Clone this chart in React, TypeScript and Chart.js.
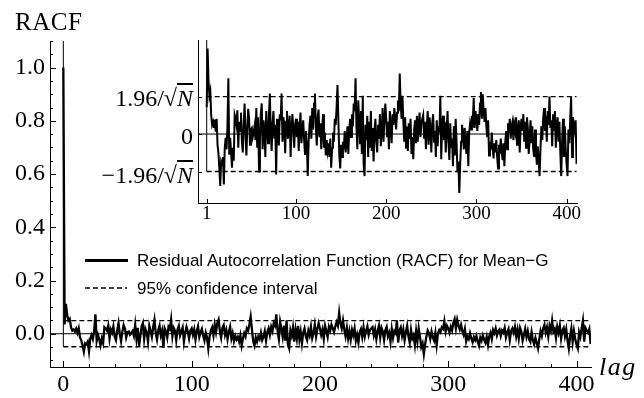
import React, { useEffect, useRef } from 'react';
import { Chart, registerables } from 'chart.js';

Chart.register(...registerables);

// Confidence bound 1.96/sqrt(N)
const CI = 0.049;

// Residual autocorrelation, lag 0 .. 411
const racf: number[] = [
  1.0,
  0.035, 0.112, 0.070, 0.050, 0.056, 0.024, 0.012, 0.016, 0.008, 0.019,
  0.003, 0.020, -0.014, -0.025, -0.045, -0.068, -0.036, -0.040, -0.030, -0.066,
  -0.018, -0.005, -0.020, 0.010, 0.073, -0.027, -0.005, -0.022, -0.044, -0.018,
  -0.035, 0.025, 0.020, 0.012, 0.031, -0.018, 0.016, 0.004, 0.028, -0.010,
  -0.024, 0.012, 0.040, 0.000, -0.028, 0.008, 0.033, 0.020, -0.014, 0.006,
  0.008, -0.004, 0.002, 0.010, -0.008, 0.034, -0.018, 0.022, -0.049, -0.010,
  0.026, 0.040, -0.020, 0.018, 0.004, -0.030, 0.030, 0.010, -0.012, 0.025,
  0.053, 0.002, -0.022, 0.014, 0.030, -0.006, 0.012, -0.053, 0.020, 0.008,
  -0.015, 0.026, 0.018, 0.053, -0.010, 0.022, 0.012, -0.025, 0.016, 0.030,
  -0.006, 0.010, 0.024, -0.030, 0.004, 0.026, 0.008, -0.018, 0.012, 0.020,
  -0.004, 0.016, -0.022, 0.010, 0.028, -0.012, 0.006, 0.018, -0.008, -0.026,
  0.004, -0.014, -0.055, -0.010, 0.012, 0.024, -0.006, 0.034, 0.006, 0.040,
  0.053, 0.010, -0.015, 0.022, 0.032, -0.004, 0.014, -0.020, 0.008, 0.026,
  -0.018, 0.002, -0.028, -0.008, -0.022, -0.012, -0.030, -0.006, -0.044, -0.018,
  0.002, -0.010, 0.020, 0.012, 0.035, 0.064, 0.016, -0.028, -0.045, -0.014,
  -0.030, -0.010, -0.020, 0.004, -0.024, -0.012, 0.010, -0.026, 0.006, 0.020,
  -0.004, 0.026, 0.010, 0.040, 0.030, 0.073, 0.010, -0.020, 0.044, 0.018,
  -0.012, 0.030, -0.026, 0.050, -0.040, -0.055, 0.012, -0.008, 0.024, -0.030,
  0.016, -0.018, 0.030, -0.022, 0.008, -0.036, 0.004, 0.020, -0.010, -0.024,
  0.012, -0.006, 0.026, -0.016, 0.002, 0.034, -0.010, 0.018, 0.040, 0.020,
  -0.004, 0.016, -0.020, 0.030, 0.010, -0.012, 0.026, 0.012, 0.034, 0.020,
  0.006, 0.028, 0.044, 0.030, 0.079, 0.040, 0.020, 0.050, 0.016, -0.010,
  0.022, -0.018, 0.010, -0.022, 0.014, -0.006, 0.020, -0.026, -0.004, -0.033,
  0.006, 0.018, -0.012, 0.024, -0.010, 0.012, 0.028, -0.004, 0.014, 0.020,
  0.025, -0.006, 0.016, -0.020, 0.010, 0.030, -0.014, 0.022, 0.008, -0.024,
  0.014, 0.026, -0.010, 0.004, -0.030, 0.018, -0.016, 0.010, 0.002, 0.050,
  -0.033, 0.012, 0.024, -0.008, 0.016, -0.024, 0.006, 0.030, -0.010, -0.034,
  0.014, -0.018, -0.006, -0.042, 0.010, -0.028, 0.020, -0.012, -0.050, -0.036,
  -0.077, -0.040, -0.010, 0.012, 0.002, -0.020, 0.008, -0.014, -0.026, 0.004,
  -0.042, 0.002, 0.014, 0.006, 0.024, 0.018, 0.047, 0.008, 0.030, 0.020,
  0.004, 0.026, 0.012, 0.040, 0.055, 0.020, 0.052, 0.030, 0.016, 0.034,
  0.010, -0.004, 0.018, -0.028, -0.010, -0.020, 0.002, -0.018, -0.032, -0.012,
  -0.024, -0.008, -0.030, -0.045, -0.014, -0.026, -0.006, -0.022, -0.034, -0.012,
  -0.042, -0.010, 0.004, -0.020, 0.014, 0.002, 0.020, -0.006, 0.010, 0.016,
  -0.008, 0.012, 0.004, 0.022, -0.014, 0.006, 0.018, -0.024, 0.010, 0.020,
  0.004, 0.026, -0.010, 0.016, -0.018, 0.022, 0.008, -0.026, -0.006, 0.018,
  -0.012, 0.010, -0.020, -0.030, 0.006, -0.024, -0.040, -0.016, -0.034, -0.055,
  -0.020, 0.010, -0.008, 0.020, 0.034, 0.004, 0.024, -0.010, 0.030, 0.012,
  0.049, 0.008, 0.018, -0.016, 0.026, 0.004, 0.030, -0.018, 0.012, 0.022,
  -0.010, 0.016, -0.024, -0.055, -0.010, 0.020, -0.030, 0.010, -0.020, -0.040,
  -0.055, 0.006, -0.012, 0.020, 0.049, -0.030, 0.022, 0.012, 0.004, 0.018, -0.039,
];

const mainXTicks = [0, 20, 40, 60, 80, 100, 120, 140, 160, 180, 200, 220, 240, 260, 280, 300, 320, 340, 360, 380, 400];
const mainXLabels = [0, 100, 200, 300, 400];
const mainYTicks = [-0.1, -0.05, 0, 0.05, 0.1, 0.15, 0.2, 0.25, 0.3, 0.35, 0.4, 0.45, 0.5, 0.55, 0.6, 0.65, 0.7, 0.75, 0.8, 0.85, 0.9, 0.95, 1.0, 1.05, 1.1];
const mainYLabels = [0, 0.2, 0.4, 0.6, 0.8, 1.0];
const insetXLabels = [1, 100, 200, 300, 400];
const insetYTicks = [-CI, 0, CI];

const SERIF = '"Liberation Serif", "Times New Roman", serif';
const SANS = '"Liberation Sans", Arial, sans-serif';

const near = (a: number, list: number[]) => list.some((m) => Math.abs(m - a) < 1e-9);

function tickPlugin(xt: number[], xMaj: number[], yt: number[], yMaj: number[], maj: number, min: number) {
  return {
    id: 'inwardTicks',
    afterDraw(chart: any) {
      const { ctx, chartArea } = chart;
      const xs = chart.scales.x;
      const ys = chart.scales.y;
      ctx.save();
      ctx.strokeStyle = '#000';
      ctx.lineWidth = 1;
      ctx.beginPath();
      xt.forEach((v) => {
        const px = Math.round(xs.getPixelForValue(v)) + 0.5;
        const L = near(v, xMaj) ? maj : min;
        ctx.moveTo(px, chartArea.bottom);
        ctx.lineTo(px, chartArea.bottom - L);
      });
      yt.forEach((v) => {
        const py = Math.round(ys.getPixelForValue(v)) + 0.5;
        const L = near(v, yMaj) ? maj : min;
        ctx.moveTo(chartArea.left, py);
        ctx.lineTo(chartArea.left + L, py);
      });
      ctx.stroke();
      ctx.restore();
    },
  };
}

const line = (data: { x: number; y: number }[], width: number, dash: number[] = []) => ({
  data,
  showLine: true,
  borderColor: '#000',
  backgroundColor: '#000',
  borderWidth: width,
  borderDash: dash,
  pointRadius: 0,
  fill: false,
  tension: 0,
});

function MainChart() {
  const ref = useRef<HTMLCanvasElement>(null);
  useEffect(() => {
    const xMin = -10.4;
    const xMax = 411.3;
    const last = racf.length - 1;
    const chart = new Chart(ref.current!, {
      type: 'scatter',
      data: {
        datasets: [
          line([{ x: xMin, y: 0 }, { x: last, y: 0 }], 1),
          line([{ x: 0, y: -CI }, { x: 0, y: 1.1 }], 1),
          line([{ x: 0, y: CI }, { x: last, y: CI }], 1.3, [5, 3]),
          line([{ x: 0, y: -CI }, { x: last, y: -CI }], 1.3, [5, 3]),
          line(racf.map((v, i) => ({ x: i, y: v })), 2.3),
        ] as any,
      },
      options: {
        animation: false,
        responsive: false,
        devicePixelRatio: 1,
        layout: { padding: { top: 41, right: 53, left: 0, bottom: 0 } },
        plugins: { legend: { display: false }, tooltip: { enabled: false } },
        scales: {
          x: {
            type: 'linear',
            min: xMin,
            max: xMax,
            grid: { display: false, drawTicks: false },
            border: { display: true, color: '#000', width: 1 },
            afterBuildTicks: (s: any) => {
              s.ticks = mainXLabels.map((v) => ({ value: v }));
            },
            afterFit: (s: any) => {
              s.height = 31;
            },
            ticks: {
              autoSkip: false,
              maxRotation: 0,
              padding: 3,
              color: '#000',
              font: { family: SERIF, size: 24 },
              callback: (v: any) => String(v),
            },
          },
          y: {
            type: 'linear',
            min: -0.125,
            max: 1.1,
            grid: { display: false, drawTicks: false },
            border: { display: true, color: '#000', width: 1 },
            afterBuildTicks: (s: any) => {
              s.ticks = mainYLabels.map((v) => ({ value: v }));
            },
            afterFit: (s: any) => {
              s.width = 50;
            },
            ticks: {
              autoSkip: false,
              padding: 5,
              color: '#000',
              font: { family: SERIF, size: 24 },
              callback: (v: any) => Number(v).toFixed(1),
            },
          },
        },
      } as any,
      plugins: [tickPlugin(mainXTicks, mainXLabels, mainYTicks, mainYLabels, 6, 3)],
    });
    return () => chart.destroy();
  }, []);
  return <canvas ref={ref} width={644} height={398} style={{ position: 'absolute', left: 0, top: 0 }} />;
}

function InsetChart() {
  const ref = useRef<HTMLCanvasElement>(null);
  useEffect(() => {
    const xMin = -8.65;
    const xMax = 411.5;
    const yTop = 0.123;
    const last = racf.length - 1;
    const lagged = racf.slice(1).map((v, i) => ({ x: i + 1, y: v }));
    const chart = new Chart(ref.current!, {
      type: 'scatter',
      data: {
        datasets: [
          line([{ x: xMin, y: 0 }, { x: last, y: 0 }], 1),
          line([{ x: 1, y: -CI }, { x: 1, y: yTop }], 1),
          line([{ x: 1, y: CI }, { x: last, y: CI }], 1.3, [5, 3]),
          line([{ x: 1, y: -CI }, { x: last, y: -CI }], 1.3, [5, 3]),
          line(lagged, 2),
        ] as any,
      },
      options: {
        animation: false,
        responsive: false,
        devicePixelRatio: 1,
        layout: { padding: { top: 10, right: 23, left: 0, bottom: 0 } },
        plugins: { legend: { display: false }, tooltip: { enabled: false } },
        scales: {
          x: {
            type: 'linear',
            min: xMin,
            max: xMax,
            grid: { display: false, drawTicks: false },
            border: { display: true, color: '#000', width: 1 },
            afterBuildTicks: (s: any) => {
              s.ticks = insetXLabels.map((v) => ({ value: v }));
            },
            afterFit: (s: any) => {
              s.height = 27;
            },
            ticks: {
              autoSkip: false,
              maxRotation: 0,
              padding: 0,
              color: '#000',
              font: { family: SERIF, size: 19 },
              callback: (v: any) => String(v),
            },
          },
          y: {
            type: 'linear',
            min: -0.0902,
            max: yTop,
            grid: { display: false, drawTicks: false },
            border: { display: true, color: '#000', width: 1 },
            ticks: { display: false },
            afterFit: (s: any) => {
              s.width = 18;
            },
          },
        },
      } as any,
      plugins: [tickPlugin(insetXLabels, insetXLabels, insetYTicks, insetYTicks, 4, 4)],
    });
    return () => chart.destroy();
  }, []);
  return <canvas ref={ref} width={420} height={200} style={{ position: 'absolute', left: 180, top: 30 }} />;
}

function Txt(props: { x: number; y: number; align?: 'left' | 'right' | 'center'; size: number; family: string; italic?: boolean; spacing?: number; children: React.ReactNode }) {
  const { x, y, align = 'left', size, family, italic, spacing = 0, children } = props;
  const tx = align === 'left' ? '0' : align === 'right' ? '-100%' : '-50%';
  return (
    <div
      style={{
        position: 'absolute',
        left: x,
        top: y,
        transform: `translate(${tx}, -50%)`,
        fontFamily: family,
        fontSize: size,
        fontStyle: italic ? 'italic' : 'normal',
        letterSpacing: spacing,
        lineHeight: 1,
        whiteSpace: 'nowrap',
        color: '#000',
      }}
    >
      {children}
    </div>
  );
}

const SqrtN = () => (
  <>
    /√<span style={{ fontStyle: 'italic', textDecoration: 'overline' }}>N</span>
  </>
);

export default function App() {
  return (
    <div style={{ position: 'fixed', left: 0, top: 0, width: 644, height: 398, background: '#fff', overflow: 'hidden' }}>
      <MainChart />
      <InsetChart />
      <Txt x={15} y={21} size={25} family={SERIF} spacing={0.5}>RACF</Txt>
      <Txt x={599} y={367} size={26} family={SERIF} italic spacing={1.5}>lag</Txt>
      <Txt x={193} y={98} align="right" size={24} family={SERIF}>
        1.96<SqrtN />
      </Txt>
      <Txt x={193} y={136} align="right" size={24} family={SERIF}>0</Txt>
      <Txt x={193} y={175} align="right" size={24} family={SERIF}>
        −1.96<SqrtN />
      </Txt>
      <div style={{ position: 'absolute', left: 85, top: 258.5, width: 43, height: 3, background: '#000' }} />
      <Txt x={137} y={260} size={17} family={SANS}>Residual Autocorrelation Function (RACF) for Mean−G</Txt>
      <svg style={{ position: 'absolute', left: 85, top: 284 }} width={44} height={8}>
        <line x1={0} y1={4} x2={42} y2={4} stroke="#000" strokeWidth={1.3} strokeDasharray="5,3" />
      </svg>
      <Txt x={137} y={288} size={17} family={SANS}>95% confidence interval</Txt>
    </div>
  );
}
